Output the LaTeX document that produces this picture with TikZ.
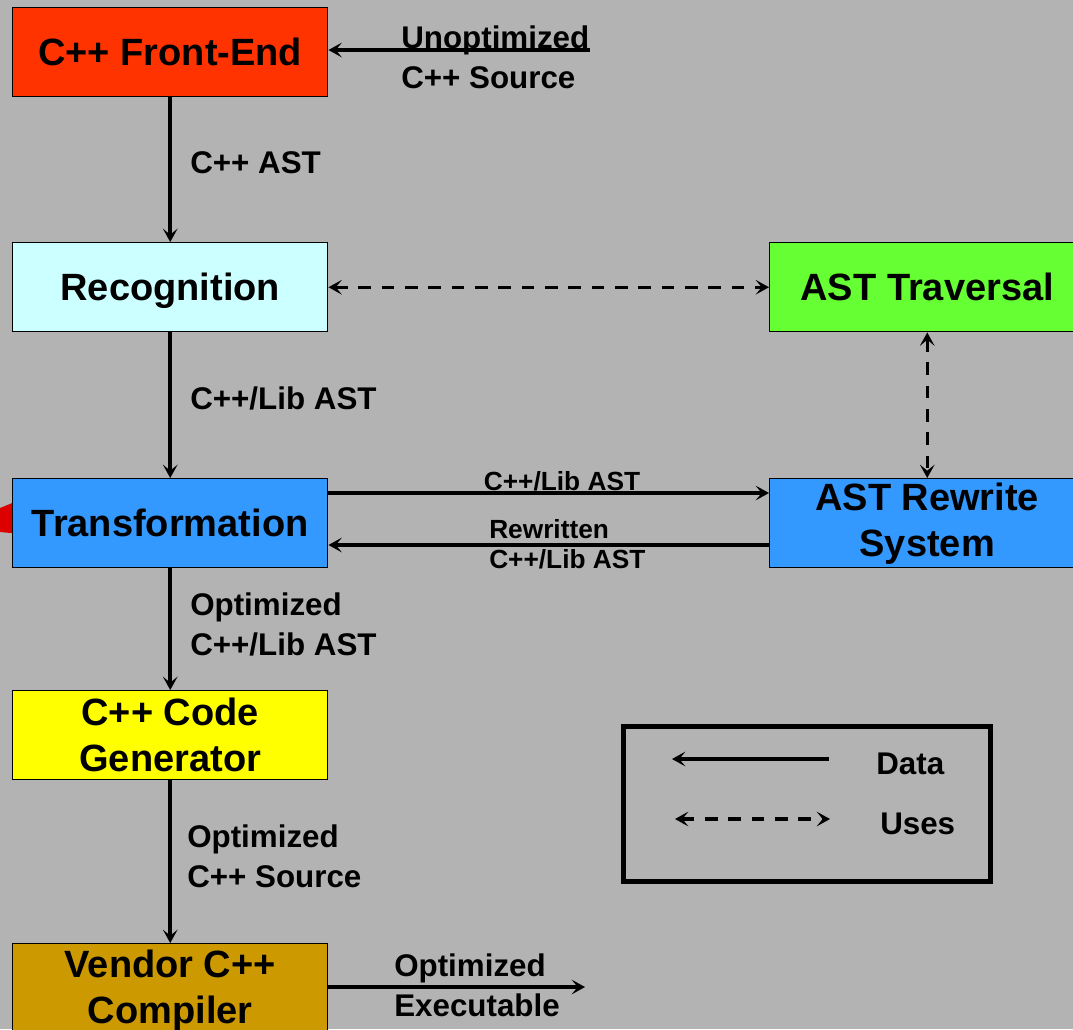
\documentclass[tikz,border=0pt]{standalone}
\usepackage{fontspec}
\setmainfont{Liberation Sans}
\usetikzlibrary{arrows.meta,calc}
\definecolor{bg}{HTML}{B3B3B3}
\definecolor{cfront}{HTML}{FF3300}
\definecolor{crecog}{HTML}{CCFFFF}
\definecolor{ctrav}{HTML}{66FF33}
\definecolor{ctrans}{HTML}{3399FF}
\definecolor{cgen}{HTML}{FFFF00}
\definecolor{cvend}{HTML}{CC9900}
\definecolor{cred}{HTML}{DD0000}
\begin{document}
\begin{tikzpicture}[x=0.75pt,y=-0.75pt,
  box/.style={draw=black, line width=1.1pt, minimum width=236.25pt, minimum height=66.75pt,
    inner sep=0pt, anchor=north west, align=center,
    font=\fontsize{28.5}{34.5}\selectfont\bfseries},
  one/.style={text height=20.4pt, text depth=0pt},
  tip/.tip={Stealth[length=10pt,width=11pt,inset=4.5pt]},
  data/.style={line width=2.7pt, -tip},
  uses/.style={line width=2.6pt, dash pattern=on 9.5pt off 8pt, tip-tip},
  lab/.style={font=\fontsize{23.5}{30}\selectfont\bfseries, anchor=west, align=left, inner sep=0pt},
  slab/.style={font=\fontsize{19.7}{22.5}\selectfont\bfseries, align=left, inner sep=0pt}]
\fill[bg] (0,0) rectangle (1073,1029);
\useasboundingbox (0,0) rectangle (1073,1029);
\clip (0,0) rectangle (1073,1029);
% partially visible red shape
\fill[cred] (22,499) -- (22,534) -- (0,532) -- (0,508) -- cycle;
% boxes
\node[box, one, fill=cfront] (front) at (12,7) {C++ Front-End};
\node[box, one, fill=crecog] (recog) at (12,242) {Recognition};
\node[box, one, fill=ctrav] (trav) at (769,242) {AST Traversal};
\node[box, one, fill=ctrans] (trans) at (12,478) {Transformation};
\node[box, fill=ctrans] (rew) at (769,478) {AST Rewrite\\System};
\node[box, fill=cgen] (gen) at (12,690) {C++ Code\\Generator};
\node[box, fill=cvend, minimum height=69.75pt] (vend) at (12,943) {Vendor C++\\Compiler};
% free ends
\coordinate (src) at (590,50);
\coordinate (exe) at (585,987);
\coordinate (ya) at (0,493);
\coordinate (yb) at (0,545);
% connectors
\draw[data] (src) -- (front.east |- src);
\draw[data] (front.south) -- (recog.north);
\draw[uses] (recog.east) -- (trav.west);
\draw[data] (recog.south) -- (trans.north);
\draw[uses] (trav.south) -- (rew.north);
\draw[data] (trans.east |- ya) -- (rew.west |- ya);
\draw[data] (rew.west |- yb) -- (trans.east |- yb);
\draw[data] (trans.south) -- (gen.north);
\draw[data] (gen.south) -- (vend.north);
\draw[data] (vend.east |- exe) -- (exe);
% labels
\node[lab] (lsrc) at (401,57) {Unoptimized\\C++ Source};
\node[lab] (last) at (190,163) {C++ AST};
\node[lab] (llib) at (190,398) {C++/Lib AST};
\node[slab] (lto) at (562,481) {C++/Lib AST};
\node[slab, anchor=west] (lback) at (489,544) {Rewritten\\C++/Lib AST};
\node[lab] (lopt) at (190,624) {Optimized\\C++/Lib AST};
\node[lab] (lopts) at (187,856) {Optimized\\C++ Source};
\node[lab] (lexe) at (394,985) {Optimized\\Executable};
% legend
\node[draw=black, line width=3.75pt, minimum width=275.25pt, minimum height=116.25pt,
  inner sep=0pt, anchor=north west] (legend) at (621,724) {};
\coordinate (d1) at (829,759);
\coordinate (d2) at (672,759);
\coordinate (u1) at (675,819);
\coordinate (u2) at (830,819);
\draw[data] (d1) -- (d2);
\draw[uses] (u1) -- (u2);
\node[lab] (ldata) at (876,764) {Data};
\node[lab] (luses) at (880,824) {Uses};
\end{tikzpicture}
\end{document}
